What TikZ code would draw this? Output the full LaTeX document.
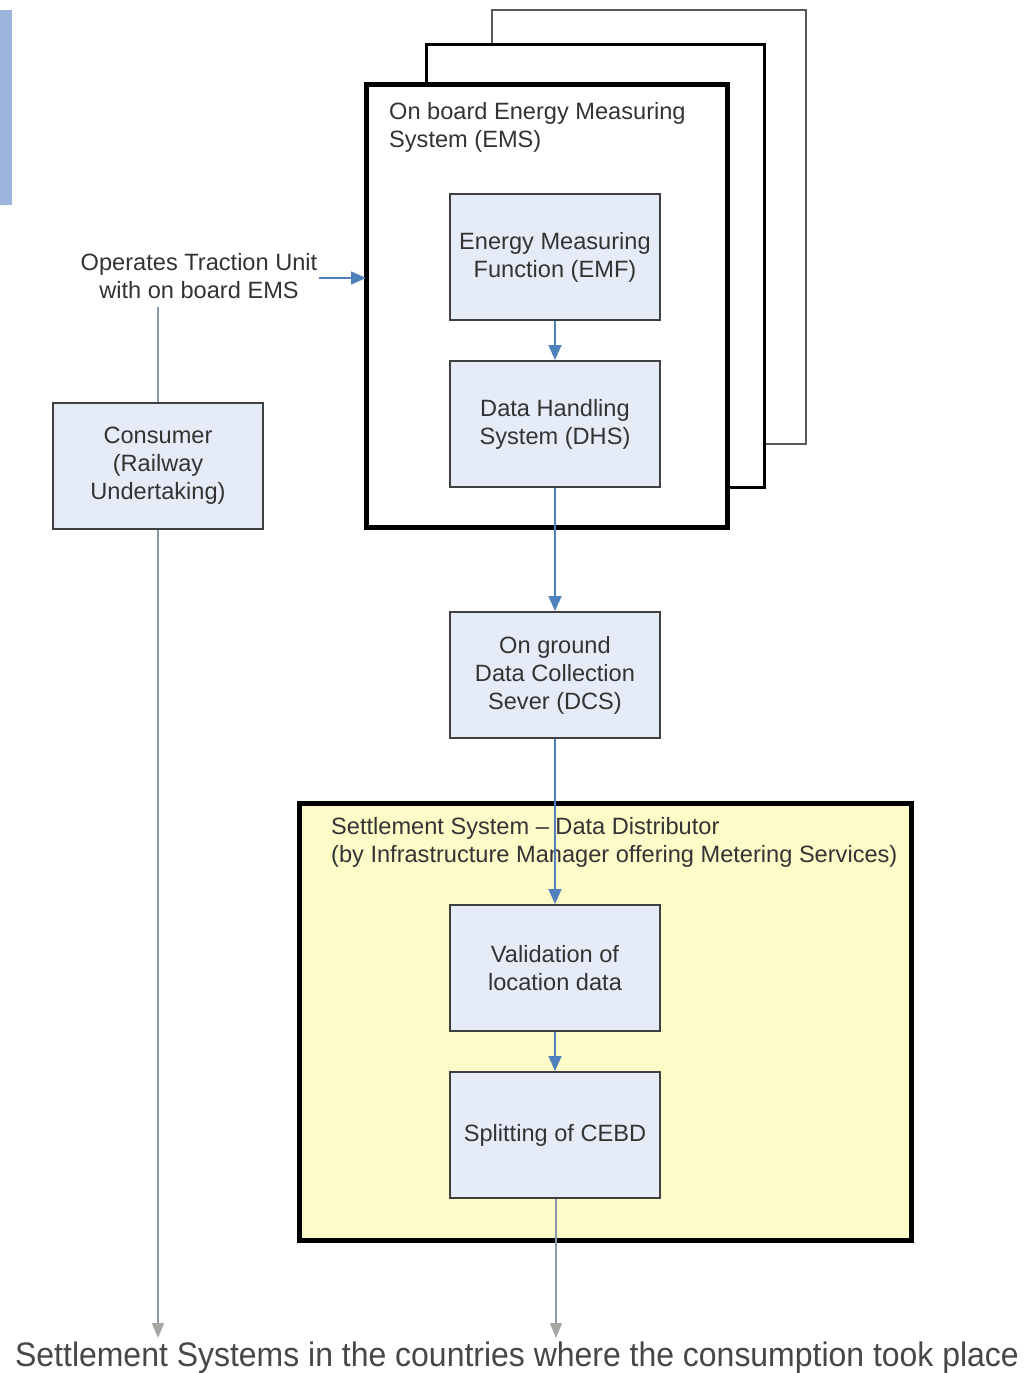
\documentclass[tikz,border=0pt]{standalone}
\usepackage{fontspec}
\setmainfont{Liberation Sans}
\newfontfamily\narrowfont[FakeStretch=0.94]{Liberation Sans}
\usetikzlibrary{arrows.meta,calc}
\definecolor{boxfill}{HTML}{E6ECF7}
\definecolor{boxline}{HTML}{404040}
\definecolor{linkblue}{HTML}{4F81BD}
\definecolor{linkgray}{HTML}{8A9AAE}
\definecolor{tipgray}{HTML}{A6A6A6}
\definecolor{settlefill}{HTML}{FDFCC9}
\definecolor{sidebar}{HTML}{9DB5DC}
\definecolor{txt}{HTML}{333333}
\tikzset{
  labeltext/.style={font=\fontsize{23.6}{28}\selectfont, text=txt, align=center},
  procbox/.style={labeltext, draw=boxline, line width=2pt, fill=boxfill,
    minimum width=210pt, minimum height=126pt, inner sep=0pt},
  bluelink/.style={draw=linkblue, line width=1.6pt, -{Triangle[length=15pt,width=13pt]}},
  graylink/.style={draw=linkgray, line width=1.6pt, -{Triangle[length=15pt,width=12pt,color=tipgray]}},
  plainlink/.style={draw=linkgray, line width=1.6pt},
  frame/.style={draw=black, line width=5pt}
}
\begin{document}
\begin{tikzpicture}[x=1pt,y=-1pt]
\useasboundingbox (0,0) rectangle (1024,1373);
\fill[white] (0,0) rectangle (1024,1373);

% side bar
\fill[sidebar] (0,10) rectangle (12,205);

% stacked EMS frames
\draw[draw=gray!70!black, line width=2pt, fill=white] (492,10) rectangle (806,444);
\draw[draw=black, line width=3pt, fill=white] (426,44) rectangle (764,487);
\draw[frame, fill=white] (366,84) rectangle (727,527);
\node[labeltext, align=left, anchor=north west, inner sep=0pt] (emstitle) at (389,102)
  {On board Energy Measuring\\System (EMS)};
\coordinate (emsleft) at (366,278);

% settlement system frame
\draw[frame, fill=settlefill] (299,803) rectangle (911,1240);
\node[labeltext, align=left, anchor=north west, inner sep=0pt] (settitle) at (331,817)
  {Settlement System -- Data Distributor\\(by Infrastructure Manager offering Metering Services)};

% process boxes
\node[procbox] (emf) at (555,257) {Energy Measuring\\Function (EMF)};
\node[procbox] (dhs) at (555,424) {Data Handling\\System (DHS)};
\node[procbox] (dcs) at (555,675) {On ground\\Data Collection\\Sever (DCS)};
\node[procbox] (val) at (555,968) {Validation of\\location data};
\node[procbox] (spl) at (555,1135) {Splitting of CEBD};
\node[procbox] (cons) at (158,466) {Consumer\\(Railway\\Undertaking)};

% operator label
\node[labeltext, inner sep=0pt] (op) at (199,276) {Operates Traction Unit\\with on board EMS};

% bottom destination text
\node[font=\narrowfont\fontsize{34}{40}\selectfont, text=txt!90!white, inner sep=0pt, anchor=base] (dest) at (517,1366)
  {Settlement Systems in the countries where the consumption took place};
\coordinate (destl) at (158,1338);
\coordinate (destr) at (556,1338);

% connectors
\draw[bluelink] (emf) -- (dhs);
\draw[bluelink] (dhs) -- (dcs);
\draw[bluelink] (dcs) -- (val);
\draw[bluelink] (val) -- (spl);
\draw[bluelink] ($(op.east |- emsleft)+(2,0)$) -- (emsleft);
\draw[plainlink] (cons.north) -- ($(op.south -| cons.north)+(0,8)$);
\draw[graylink] (cons.south) -- (destl);
\draw[graylink] (spl.south -| destr) -- (destr);
\end{tikzpicture}
\end{document}
